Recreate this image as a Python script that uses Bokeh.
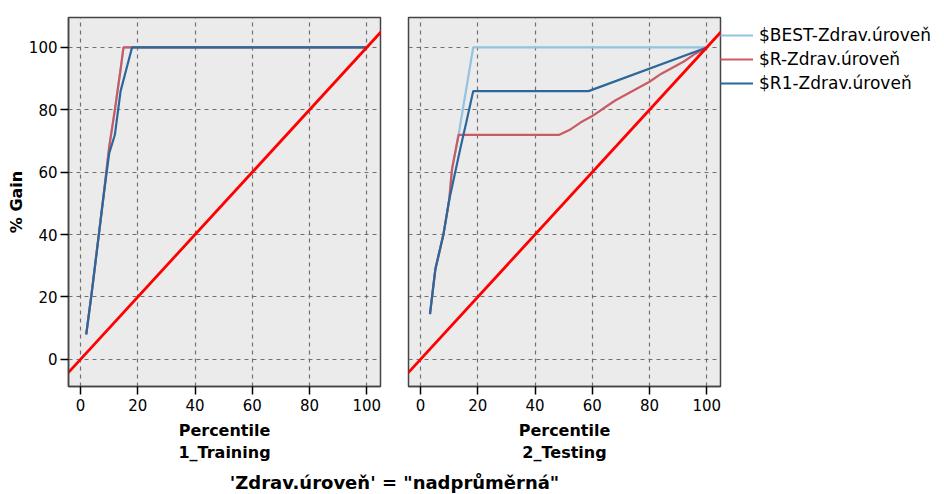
from bokeh.plotting import figure
from bokeh.models import Range1d, FixedTicker, Legend, LegendItem, Label
from bokeh.layouts import column, row
from bokeh.embed import file_html
from bokeh.resources import INLINE

FONT = "DejaVu Sans"

# ---- data ----
ticks = [0, 20, 40, 60, 80, 100]
baseline_x = [-10, 110]
baseline_y = [-10, 110]

train_best_x = [2, 4, 6, 8, 10, 12, 14, 15, 100]
train_best_y = [8, 22, 37, 52, 68, 80, 93, 100, 100]
train_r_x = [2, 4, 6, 8, 10, 12, 14, 15, 100]
train_r_y = [8, 22, 37, 52, 68, 80, 93, 100, 100]
train_r1_x = [2, 4, 6, 8, 10, 12, 14, 16, 18, 100]
train_r1_y = [8, 22, 37, 52, 66, 72, 86, 93, 100, 100]

test_best_x = [3.3, 5.2, 8, 10, 11, 13.3, 18.4, 100]
test_best_y = [14.5, 29, 40, 51, 61, 72, 100, 100]
test_r_x = [3.3, 5.2, 8, 10, 11, 13.3, 48.5, 52, 56, 60, 64, 68, 72, 76, 80, 84, 88, 92, 96, 100]
test_r_y = [14.5, 29, 40, 51, 61, 72, 72, 73.5, 76, 78, 80.5, 83, 85, 87, 89, 91.5, 93.5, 95.5, 98, 100]
test_r1_x = [3.3, 5.2, 8, 10, 12, 14, 16, 18.4, 58.7, 100]
test_r1_y = [14.5, 29, 40, 51, 59.5, 68, 76, 86, 86, 100]

series_names = ["$BEST-Zdrav.úroveň", "$R-Zdrav.úroveň", "$R1-Zdrav.úroveň"]
series_colors = ["#93c3e0", "#cc5a64", "#2b679b"]
panel_labels = ["Percentile\n1_Training", "Percentile\n2_Testing"]
y_label = "% Gain"
caption = "'Zdrav.úroveň' = \"nadprůměrná\""


def make_panel(xlabel, data, show_y, border_left, border_right):
    p = figure(output_backend="svg", toolbar_location=None,
               frame_width=312, frame_height=369,
               x_range=Range1d(-4.2, 104.8), y_range=Range1d(-8.7, 109.6),
               min_border_left=border_left, min_border_right=border_right,
               min_border_top=17, min_border_bottom=82,
               background_fill_color="#ebebeb", border_fill_color="white")
    p.outline_line_color = "#444444"
    p.outline_line_width = 1.5
    for ax in (p.xaxis[0], p.yaxis[0]):
        ax.ticker = FixedTicker(ticks=ticks)
        ax.major_tick_out = 8
        ax.major_tick_in = 0
        ax.minor_tick_line_color = None
        ax.major_tick_line_color = "black"
        ax.major_tick_line_width = 1.5
        ax.axis_line_color = "#444444"
        ax.axis_line_width = 1.5
        ax.major_label_text_font = FONT
        ax.major_label_text_font_size = "15px"
        ax.major_label_text_color = "black"
        ax.axis_label_text_font = FONT
        ax.axis_label_text_font_style = "bold"
        ax.axis_label_text_font_size = "16px"
        ax.axis_label_text_color = "black"
        ax.axis_label_text_line_height = 1.2
    p.xaxis.axis_label = xlabel
    p.xaxis.major_label_standoff = 4
    p.xaxis.axis_label_standoff = 7
    if show_y:
        p.yaxis.axis_label = y_label
        p.yaxis.major_label_standoff = 3
        p.yaxis.axis_label_standoff = 0
    else:
        p.yaxis.visible = False
    for g in (p.xgrid[0], p.ygrid[0]):
        g.grid_line_color = "#707070"
        g.grid_line_dash = "4 4"
        g.grid_line_width = 1.2
    renderers = []
    for (xs, ys), c in zip(data, series_colors):
        r = p.line(xs, ys, line_color=c, line_width=2.2)
        renderers.append(r)
    p.line(baseline_x, baseline_y, line_color="#ff0000", line_width=2.8)
    return p, renderers


p1, _ = make_panel(panel_labels[0],
                   [(train_best_x, train_best_y), (train_r_x, train_r_y), (train_r1_x, train_r1_y)],
                   True, 68, 14)
p2, rs = make_panel(panel_labels[1],
                    [(test_best_x, test_best_y), (test_r_x, test_r_y), (test_r1_x, test_r1_y)],
                    False, 14, 0)

legend = Legend(items=[LegendItem(label=n, renderers=[r]) for n, r in zip(series_names, rs)],
                location=(0, 293))
legend.label_text_font = FONT
legend.label_text_font_size = "17px"
legend.label_text_color = "black"
legend.glyph_width = 33
legend.glyph_height = 20
legend.label_height = 20
legend.spacing = 4
legend.padding = 2
legend.margin = 0
legend.label_standoff = 6
legend.border_line_color = None
legend.background_fill_alpha = 0
p2.add_layout(legend, "right")

cap = figure(output_backend="svg", toolbar_location=None, width=944, height=26,
             x_range=Range1d(0, 1), y_range=Range1d(0, 1),
             min_border=0, outline_line_color=None)
cap.axis.visible = False
cap.grid.visible = False
cap.add_layout(Label(x=394, y=12, x_units="screen", y_units="screen", text=caption,
                     text_align="center", text_baseline="middle",
                     text_font=FONT, text_font_style="bold", text_font_size="18px",
                     text_color="black"))

layout = column(row(p1, p2), cap)
open("out.html", "w").write(file_html(layout, INLINE))
